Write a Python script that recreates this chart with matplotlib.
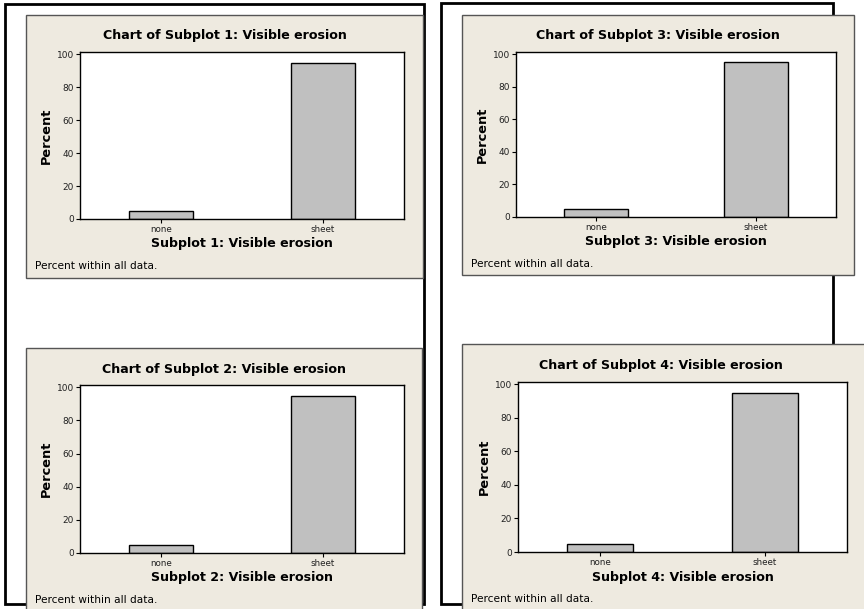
import matplotlib
matplotlib.use("Agg")
import matplotlib.pyplot as plt
from matplotlib.patches import Rectangle

W, H = 864, 609

categories = ["none", "sheet"]
values_sub1 = [5.0, 95.0]
values_sub2 = [5.0, 95.0]
values_sub3 = [5.0, 95.0]
values_sub4 = [5.0, 95.0]
yticks = [0, 20, 40, 60, 80, 100]
titles = ["Chart of Subplot 1: Visible erosion", "Chart of Subplot 2: Visible erosion",
          "Chart of Subplot 3: Visible erosion", "Chart of Subplot 4: Visible erosion"]
xlabels = ["Subplot 1: Visible erosion", "Subplot 2: Visible erosion",
           "Subplot 3: Visible erosion", "Subplot 4: Visible erosion"]
footnote = "Percent within all data."

plt.rcParams['font.family'] = ['DejaVu Sans']

fig = plt.figure(figsize=(W / 100, H / 100), dpi=100)
fig.patch.set_facecolor("white")


def fx(x):
    return x / W


def fy(y):
    return 1 - y / H


def rect(x0, y0, x1, y1, **kw):
    r = Rectangle((fx(x0), fy(y1)), fx(x1) - fx(x0), fy(y0) - fy(y1),
                  transform=fig.transFigure, **kw)
    fig.add_artist(r)


# outer frames
rect(5, 4, 424, 604, facecolor="white", edgecolor="black", linewidth=2, zorder=0)
rect(441, 3, 833, 604, facecolor="white", edgecolor="black", linewidth=2, zorder=0)

beige = "#EEEAE0"
panels = [
    dict(panel=(26, 15, 423, 278), axes=(80, 52, 404, 219), vals=values_sub1),
    dict(panel=(26, 348, 422, 640), axes=(80, 385, 404, 553), vals=values_sub2),
    dict(panel=(462, 15, 854, 275), axes=(516, 52, 836, 217), vals=values_sub3),
    dict(panel=(462, 344, 890, 640), axes=(518, 382, 847, 552), vals=values_sub4),
]

for i, p in enumerate(panels):
    px0, py0, px1, py1 = p["panel"]
    rect(px0, py0, px1, py1, facecolor=beige, edgecolor="#555555", linewidth=1, zorder=1)
    ax0, ay0, ax1, ay1 = p["axes"]
    ax = fig.add_axes([fx(ax0), fy(ay1), fx(ax1) - fx(ax0), fy(ay0) - fy(ay1)], zorder=2)
    ax.set_facecolor("white")
    xs = list(range(len(categories)))
    ax.bar(xs, p["vals"], width=0.4, color="#C0C0C0", edgecolor="black", linewidth=1)
    ax.set_xlim(-0.5, 1.5)
    ax.set_ylim(0, 101.4)
    ax.set_yticks(yticks)
    ax.set_yticklabels([str(t) for t in yticks], fontsize=6.5, color="#222222")
    ax.set_xticks(xs)
    ax.set_xticklabels(categories, fontsize=6.3, color="#222222")
    ax.tick_params(axis="both", direction="out", length=3, width=0.8, pad=1.5)
    for s in ax.spines.values():
        s.set_linewidth(1)
        s.set_color("black")
    tx = (px0 + min(px1, px0 + 397)) / 2
    fig.text(fx(tx), fy(ay0 - 16), titles[i],
             ha="center", va="center", fontsize=9.1, fontweight="bold")
    fig.text(fx((ax0 + ax1) / 2), fy(ay1 + 25), xlabels[i],
             ha="center", va="center", fontsize=9.1, fontweight="bold")
    fig.text(fx(ax0 - 34), fy((ay0 + ay1) / 2), "Percent", rotation=90,
             ha="center", va="center", fontsize=9.3, fontweight="bold")
    fig.text(fx(px0 + 9), fy(ay1 + 47), footnote, ha="left", va="center", fontsize=7.6)

fig.savefig("out.png", dpi=100, facecolor="white")
